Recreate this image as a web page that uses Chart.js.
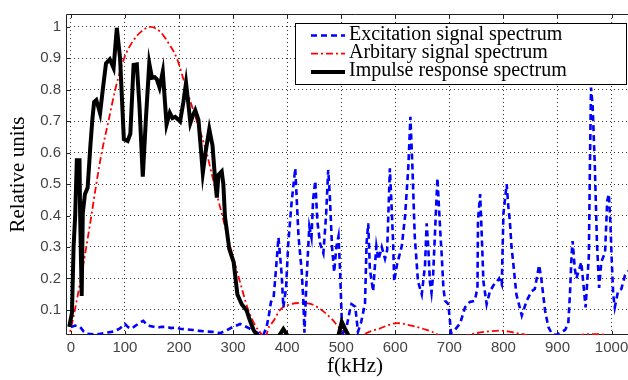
<!DOCTYPE html>
<html>
<head>
<meta charset="utf-8">
<title>Spectra</title>
<script src="https://cdn.jsdelivr.net/npm/chart.js@4.4.0/dist/chart.umd.min.js"></script>
<style>
  html, body { margin: 0; padding: 0; background: #fff; overflow: hidden; }
  #wrap { width: 644px; height: 380px; position: relative; }
</style>
</head>
<body>
<div id="wrap"><canvas id="myChart"></canvas></div>
<script>
// Valori (kHz / unita' relative)
const excitFreq = [0, 8, 17, 24, 30, 45, 55, 68, 79, 90, 100, 106, 112, 120, 128, 134, 142, 153, 160, 168, 177, 185, 195, 202, 212, 226, 238, 251, 262, 276, 288, 300, 313, 322, 331, 340, 347, 356, 362, 366, 370, 375, 378, 384, 390, 393, 398, 402, 408, 415, 421, 427, 430, 432, 436, 441, 445, 448, 452, 456, 461, 467, 472, 476, 479, 483, 487, 491, 495, 498, 501, 503, 510, 516, 519, 526, 531, 537, 544, 547, 550, 553, 559, 565, 569, 575, 581, 585, 590, 593, 596, 598, 603, 612, 618, 624, 628, 632, 636, 642, 649, 655, 658, 661, 664, 667, 670, 675, 678, 683, 686, 689, 692, 698, 701, 703, 710, 720, 729, 738, 747, 752, 753, 757, 760, 763, 769, 775, 784, 788, 792, 797, 800, 806, 809, 812, 815, 818, 824, 827, 834, 843, 852, 858, 866, 870, 877, 883, 889, 898, 904, 914, 920, 923, 926, 928, 932, 935, 944, 952, 958, 960, 962, 965, 969, 973, 977, 981, 988, 992, 995, 998, 1000, 1003, 1006, 1012, 1018, 1025, 1030, 1040, 1050, 1060];
const excitVal = [0.045, 0.05, 0.046, 0.03, 0.024, 0.022, 0.024, 0.028, 0.031, 0.04, 0.055, 0.045, 0.04, 0.05, 0.06, 0.065, 0.05, 0.046, 0.043, 0.046, 0.046, 0.042, 0.044, 0.04, 0.038, 0.036, 0.033, 0.031, 0.03, 0.026, 0.035, 0.046, 0.055, 0.048, 0.04, 0.03, 0.026, 0.02, 0.046, 0.08, 0.125, 0.14, 0.2, 0.33, 0.21, 0.108, 0.17, 0.31, 0.437, 0.55, 0.334, 0.221, 0.128, 0.027, 0.2, 0.365, 0.33, 0.45, 0.51, 0.38, 0.31, 0.28, 0.4, 0.545, 0.46, 0.3, 0.22, 0.3, 0.334, 0.221, 0.067, 0.025, 0.046, 0.098, 0.118, 0.11, 0.03, 0.062, 0.12, 0.314, 0.375, 0.23, 0.159, 0.303, 0.26, 0.3, 0.262, 0.29, 0.55, 0.437, 0.314, 0.19, 0.242, 0.303, 0.396, 0.55, 0.714, 0.54, 0.334, 0.19, 0.149, 0.242, 0.375, 0.3, 0.19, 0.154, 0.211, 0.406, 0.519, 0.355, 0.27, 0.17, 0.129, 0.118, 0.067, 0.026, 0.036, 0.057, 0.108, 0.125, 0.129, 0.17, 0.385, 0.468, 0.334, 0.19, 0.118, 0.159, 0.185, 0.19, 0.2, 0.18, 0.406, 0.5, 0.43, 0.38, 0.3, 0.252, 0.149, 0.129, 0.082, 0.129, 0.159, 0.166, 0.242, 0.2, 0.098, 0.046, 0.026, 0.02, 0.026, 0.036, 0.057, 0.149, 0.272, 0.319, 0.231, 0.2, 0.252, 0.108, 0.272, 0.56, 0.807, 0.75, 0.56, 0.314, 0.17, 0.252, 0.283, 0.447, 0.468, 0.37, 0.272, 0.15, 0.108, 0.159, 0.166, 0.211, 0.22, 0.24, 0.2, 0.18];

const arbFreq = [-6, 0, 7.5, 18.5, 28.5, 38, 47, 57, 69.5, 82, 98.5, 113, 130, 147, 165, 180, 196, 214, 233, 251, 265, 280, 295, 311, 328, 341, 353, 358, 365, 375, 387, 405, 430, 445, 460, 482, 498, 510, 530, 547, 560, 572, 585, 603, 627, 658, 679, 690, 735, 750, 770, 793, 810, 824, 842, 860, 930, 945, 962, 985, 1000, 1060];
const arbVal = [0, 0.04, 0.1, 0.2, 0.3, 0.4, 0.5, 0.6, 0.7, 0.8, 0.9, 0.95, 0.985, 1.0, 0.985, 0.95, 0.9, 0.8, 0.7, 0.6, 0.5, 0.4, 0.3, 0.2, 0.1, 0.05, 0.02, 0, 0.04, 0.065, 0.1, 0.117, 0.122, 0.118, 0.104, 0.072, 0.04, 0.025, 0, 0.026, 0.035, 0.041, 0.05, 0.058, 0.051, 0.036, 0.02, 0, 0.02, 0.026, 0.031, 0.034, 0.031, 0.026, 0.02, 0, 0, 0.021, 0.023, 0.021, 0, 0];

const impFreq = [-3, 2, 5, 8, 11, 16, 17, 20, 22, 26, 31, 36, 40, 43, 47, 50, 54, 59, 65, 72, 79, 85, 91, 98, 105, 110, 116, 122, 127, 133, 139, 145, 150, 155, 159, 164, 170, 177, 183, 188, 193, 202, 208, 213, 217, 221, 226, 230, 236, 241, 244, 249, 256, 262, 267, 270, 273, 279, 282, 285, 293, 301, 308, 316, 325, 331, 338, 344, 360, 380, 386, 393, 400, 406, 490, 495, 501, 507, 513, 520, 1060];
const impVal = [0.046, 0.09, 0.3, 0.4, 0.576, 0.576, 0.416, 0.144, 0.406, 0.468, 0.488, 0.62, 0.71, 0.761, 0.767, 0.75, 0.725, 0.8, 0.884, 0.897, 0.869, 0.997, 0.9, 0.643, 0.637, 0.66, 0.879, 0.881, 0.745, 0.524, 0.714, 0.884, 0.838, 0.84, 0.833, 0.807, 0.858, 0.689, 0.727, 0.71, 0.714, 0.699, 0.76, 0.822, 0.76, 0.694, 0.72, 0.735, 0.704, 0.6, 0.535, 0.6, 0.675, 0.622, 0.509, 0.457, 0.529, 0.54, 0.5, 0.396, 0.293, 0.252, 0.149, 0.118, 0.098, 0.067, 0.036, 0.02, 0, 0, 0.02, 0.039, 0.02, 0, 0, 0.02, 0.062, 0.04, 0.02, 0, 0];

const xTicks = [0, 100, 200, 300, 400, 500, 600, 700, 800, 900, 1000];
const yTicks = [0.1, 0.2, 0.3, 0.4, 0.5, 0.6, 0.7, 0.8, 0.9, 1];
const seriesLabels = ['Excitation signal spectrum', 'Arbitary signal spectrum', 'Impulse response spectrum'];

function toPoints(xs, ys) {
    return xs.map((x, i) => ({ x: x, y: ys[i] }));
}

// cornice con tacche interne, stile MATLAB
const frame = {
    id: 'frame',
    beforeDatasetsDraw(chart) {
        const { ctx, chartArea: a, scales } = chart;
        ctx.save();
        ctx.strokeStyle = '#222';
        ctx.lineWidth = 1;
        ctx.beginPath();
        ctx.moveTo(a.right + 5, a.top + 0.5);
        ctx.lineTo(a.left + 0.5, a.top + 0.5);
        ctx.lineTo(a.left + 0.5, a.bottom - 0.5);
        ctx.lineTo(a.right + 5, a.bottom - 0.5);
        xTicks.forEach(v => {
            const px = Math.round(scales.x.getPixelForValue(v)) + 0.5;
            ctx.moveTo(px, a.top);
            ctx.lineTo(px, a.top + 4);
            ctx.moveTo(px, a.bottom);
            ctx.lineTo(px, a.bottom - 4);
        });
        yTicks.forEach(v => {
            const py = Math.round(scales.y.getPixelForValue(v)) + 0.5;
            ctx.moveTo(a.left, py);
            ctx.lineTo(a.left + 4, py);
        });
        ctx.stroke();
        ctx.restore();
    }
};

// legenda dentro il grafico, in alto a destra
const boxLegend = {
    id: 'boxLegend',
    afterDatasetsDraw(chart) {
        const { ctx, chartArea: a } = chart;
        const bx = a.right - 349, by = a.top + 9, bw = 331, bh = 61;
        ctx.save();
        ctx.fillStyle = '#fff';
        ctx.fillRect(bx, by, bw, bh);
        ctx.strokeStyle = '#000';
        ctx.lineWidth = 1;
        ctx.strokeRect(bx + 0.5, by + 0.5, bw, bh);
        ctx.font = '20px "Liberation Serif"';
        ctx.textBaseline = 'alphabetic';
        chart.data.datasets.forEach((ds, i) => {
            const yy = by + 12.5 + i * 18.2;
            ctx.beginPath();
            ctx.strokeStyle = ds.borderColor;
            ctx.lineWidth = ds.borderWidth;
            ctx.setLineDash(ds.borderDash || []);
            ctx.moveTo(bx + 16, yy);
            ctx.lineTo(bx + 50, yy);
            ctx.stroke();
            ctx.setLineDash([]);
            ctx.fillStyle = '#000';
            ctx.fillText(ds.label, bx + 54, yy + 4);
        });
        ctx.restore();
    }
};

const ctx = document.getElementById('myChart');
const myChart = new Chart(ctx, {
    type: 'line',
    data: {
        datasets: [{
            label: seriesLabels[0],
            data: toPoints(excitFreq, excitVal),
            borderColor: '#0000ff',
            borderWidth: 2.6,
            borderDash: [6, 4],
            tension: 0,
            order: 1
        }, {
            label: seriesLabels[1],
            data: toPoints(arbFreq, arbVal),
            borderColor: '#ff0000',
            borderWidth: 1.8,
            borderDash: [7, 3, 2, 3],
            cubicInterpolationMode: 'monotone',
            order: 2
        }, {
            label: seriesLabels[2],
            data: toPoints(impFreq, impVal),
            borderColor: '#000000',
            borderWidth: 4,
            tension: 0,
            order: 0
        }]
    },
    options: {
        responsive: true,
        maintainAspectRatio: false,
        animation: false,
        events: [],
        elements: { point: { radius: 0 } },
        layout: { padding: { top: 4, left: 0, right: 0, bottom: 0 } },
        plugins: {
            legend: { display: false },
            tooltip: { enabled: false }
        },
        scales: {
            x: {
                type: 'linear',
                min: -9,
                max: 1060,
                afterBuildTicks: s => { s.ticks = xTicks.map(v => ({ value: v })); },
                afterFit: s => { s.height = 45; },
                grid: { color: '#333', lineWidth: 1, drawTicks: false },
                border: { display: false, dash: [1, 3] },
                ticks: {
                    padding: 4,
                    color: '#444',
                    font: { family: '"Liberation Sans"', size: 15 },
                    maxRotation: 0,
                    callback: v => String(v)
                },
                title: {
                    display: true,
                    text: 'f(kHz)',
                    color: '#000',
                    font: { family: '"Liberation Serif"', size: 21 },
                    padding: { top: 0, bottom: 1 }
                }
            },
            y: {
                min: 0.02,
                max: 1.041,
                afterBuildTicks: s => { s.ticks = yTicks.map(v => ({ value: v })); },
                afterFit: s => { s.width = 66; },
                grid: { color: '#333', lineWidth: 1, drawTicks: false },
                border: { display: false, dash: [1, 3] },
                ticks: {
                    padding: 5,
                    color: '#444',
                    font: { family: '"Liberation Sans"', size: 15 },
                    callback: v => (v === 1 ? '1' : v.toFixed(1))
                },
                title: {
                    display: true,
                    text: 'Relative units',
                    color: '#000',
                    font: { family: '"Liberation Serif"', size: 21 },
                    padding: { top: 6, bottom: 0 }
                }
            }
        }
    },
    plugins: [frame, boxLegend]
});
</script>
</body>
</html>
